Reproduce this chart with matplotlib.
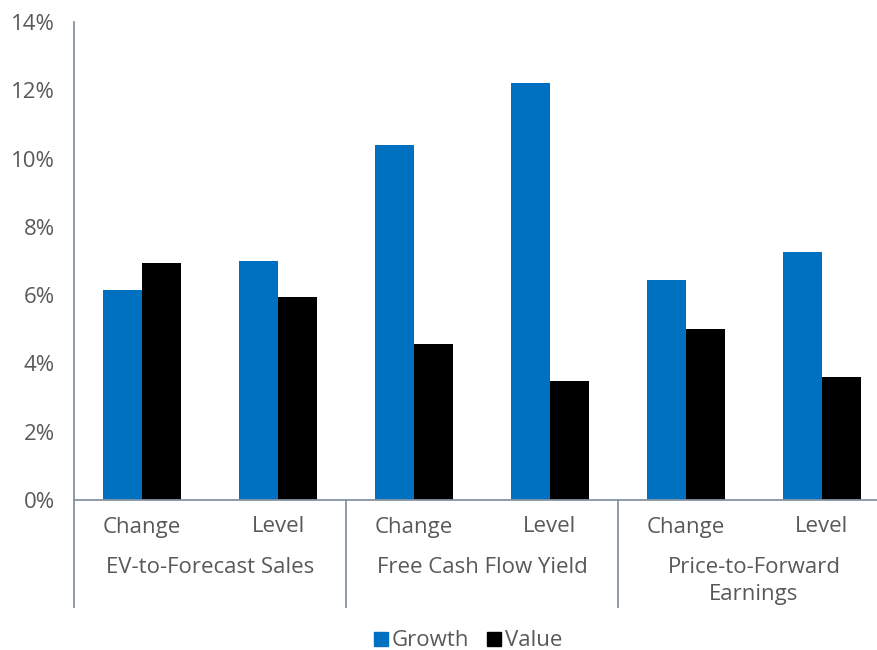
import matplotlib.pyplot as plt
import numpy as np
from matplotlib.lines import Line2D
from matplotlib.ticker import FuncFormatter

plt.rcParams['font.family'] = ['Open Sans', 'DejaVu Sans']

groups = ['EV-to-Forecast Sales', 'Free Cash Flow Yield', 'Price-to-Forward\nEarnings']
subcats = ['Change', 'Level'] * 3
growth = [6.15, 7.0, 10.4, 12.2, 6.45, 7.27]
value = [6.94, 5.95, 4.57, 3.49, 5.01, 3.6]

blue, black = '#0070C0', '#000000'
txt, axc = '#595959', '#8594A3'
fs = 16

fig = plt.figure(figsize=(8.77, 6.5), dpi=100)
ax = fig.add_axes([74 / 877, 1 - 500 / 650, 816 / 877, 478 / 650])
x = np.arange(len(subcats))
w = 0.287
ax.bar(x - w / 2, growth, w, color=blue, label='Growth')
ax.bar(x + w / 2, value, w, color=black, label='Value')

ax.set_xlim(-0.5, 5.5)
ax.set_ylim(0, 14)
ax.set_yticks(range(0, 15, 2))
ax.yaxis.set_major_formatter(FuncFormatter(lambda v, p: f'{v:.0f}%'))
ax.tick_params(axis='y', length=0, labelsize=fs, labelcolor=txt, pad=14)
ax.set_xticks([])
for s in ['top', 'right']:
    ax.spines[s].set_visible(False)
for s in ['left', 'bottom']:
    ax.spines[s].set_color(axc)
    ax.spines[s].set_linewidth(1.3)

tr = ax.get_xaxis_transform()
for i, s in enumerate(subcats):
    ax.text(i, -27 / 478, s, transform=tr, ha='center', va='center', fontsize=fs, color=txt)
for j, g in enumerate(groups):
    ax.text(2 * j + 0.5, -57 / 478, g, transform=tr, ha='center', va='top', fontsize=fs,
            color=txt, linespacing=1.4)
for b in [-0.5, 1.5, 3.5]:
    ax.add_line(Line2D([b, b], [0, -107 / 478], transform=tr, color=axc, lw=1.3, clip_on=False))

handles = [Line2D([], [], marker='s', ls='', color=blue, ms=10),
           Line2D([], [], marker='s', ls='', color=black, ms=10)]
fig.legend(handles, ['Growth', 'Value'], loc='center', bbox_to_anchor=(466 / 877, 1 - 641 / 650),
           ncol=2, frameon=False, fontsize=fs, labelcolor=txt, handletextpad=0.0,
           columnspacing=0.6, handlelength=1.0)

fig.savefig('out.png', dpi=100)
